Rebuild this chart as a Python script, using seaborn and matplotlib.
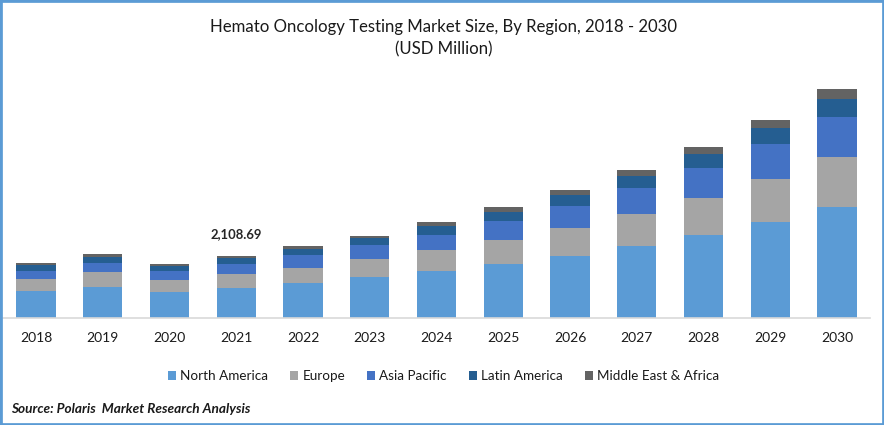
import matplotlib
matplotlib.use("Agg")
import matplotlib.pyplot as plt
from matplotlib.patches import Patch, Rectangle
import seaborn as sns

sns.set_theme(style="white")
plt.rcParams["font.family"] = ["Lato", "DejaVu Sans"]

W, H = 884, 425
years = [str(y) for y in range(2018, 2031)]
north_america = [918, 1054, 884, 1020, 1190, 1394, 1598, 1836, 2108, 2448, 2822, 3264, 3774]
europe = [408, 510, 408, 476, 510, 612, 714, 816, 952, 1088, 1258, 1462, 1700]
asia_pacific = [272, 306, 306, 340, 442, 476, 510, 646, 748, 884, 1020, 1190, 1360]
latin_america = [204, 204, 170, 204, 204, 238, 306, 306, 374, 408, 476, 544, 612]
mea = [68, 102, 68, 68.69, 102, 68, 136, 170, 170, 204, 238, 272, 340]
series_names = ["North America", "Europe", "Asia Pacific", "Latin America", "Middle East & Africa"]
series_values = [north_america, europe, asia_pacific, latin_america, mea]
colors = ["#5B9BD5", "#A5A5A5", "#4472C4", "#255E91", "#636363"]
title_lines = "Hemato Oncology Testing Market Size, By Region, 2018 - 2030\n(USD Million)"
annotation = "2,108.69"
source = "Source: Polaris  Market Research Analysis"

fig = plt.figure(figsize=(W / 100, H / 100), dpi=100, facecolor="white")
ax = fig.add_axes([2.6 / W, (H - 318) / H, (870.4 - 2.6) / W, 258 / H])

bottom = [0.0] * len(years)
for name, vals, col in zip(series_names, series_values, colors):
    sns.barplot(x=years, y=vals, bottom=bottom, color=col, saturation=1, width=0.585,
                ax=ax, errorbar=None, linewidth=0, label=name)
    bottom = [b + v for b, v in zip(bottom, vals)]
for p in ax.patches:
    p.set_antialiased(False)

ax.set_xlim(-0.5, 12.5)
ax.set_ylim(0, 258 * 34)
ax.set_facecolor("none")
for s in ["top", "right", "left"]:
    ax.spines[s].set_visible(False)
ax.spines["bottom"].set_color("#D9D9D9")
ax.spines["bottom"].set_linewidth(1.2)
ax.set_yticks([])
ax.set_ylabel("")
ax.tick_params(axis="x", length=0, pad=10, labelsize=10, labelcolor="#1a1a1a")
ax.legend().remove()

ax.text(3, sum(s[3] for s in series_values) + 22 * 34, annotation, ha="center", va="center",
        fontsize=9.4, fontweight="bold", color="#262626")

fig.text(443.5 / W, 1 - 38.5 / H, title_lines, ha="center", va="center", fontsize=12.05,
         color="#1a1a1a", linespacing=1.45)

handles = [Patch(facecolor=c, edgecolor="none") for c in colors]
fig.legend(handles, series_names, loc="center", bbox_to_anchor=(443.5 / W, 1 - 376 / H), ncol=5,
           frameon=False, fontsize=9.75, handlelength=0.6, handleheight=0.6, handletextpad=0.3,
           columnspacing=1.63, labelcolor="#1a1a1a")

fig.text(11 / W, 1 - 409 / H, source, ha="left", va="center", fontsize=9.8, fontweight="bold",
         fontstyle="italic", color="#1a1a1a")

fig.add_artist(Rectangle((0, 0), 1, 1, transform=fig.transFigure, fill=False,
                         edgecolor="#5B9BD5", linewidth=3.4, clip_on=True))
fig.savefig("out.png", dpi=100, facecolor="white")
